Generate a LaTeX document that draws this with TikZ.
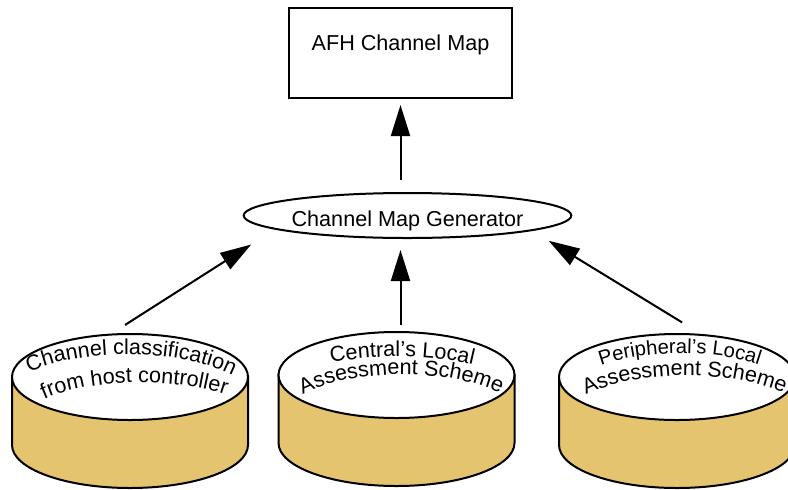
\documentclass[tikz,border=0pt]{standalone}
\usepackage{fontspec}
\setmainfont{Liberation Sans}
\usetikzlibrary{arrows.meta,shapes.geometric,decorations.text}
\definecolor{cyltan}{RGB}{229,196,112}
\newcommand\diagfont{\fontsize{10.8}{13}\selectfont}
\newcommand\cylsmallfont{\fontsize{10.1}{12}\selectfont}

\begin{document}
\begin{tikzpicture}[x=0.5pt,y=-0.5pt,line width=1pt,
  mapbox/.style={draw=black,rectangle,inner sep=0pt,minimum width=111.5pt,
    minimum height=45pt,text height=8pt,text depth=11pt,font=\diagfont},
  genbox/.style={draw=black,ellipse,inner sep=0pt,minimum width=160.5pt,
    minimum height=22.5pt,text height=10.5pt,text depth=0pt,font=\diagfont},
  cylbody/.style={draw=black,fill=cyltan},
  cyltop/.style={draw=black,fill=white,ellipse,inner sep=0pt,
    minimum width=118pt,minimum height=43pt},
  cyltext/.style={decorate,decoration={text along path,text align=center,
    text={|\diagfont|#1}}},
  cylsmall/.style={decorate,decoration={text along path,text align=center,
    text={|\cylsmallfont|#1}}},
  arr/.style={draw=black,-{Triangle[length=15.5pt,width=9.5pt]}}]
\useasboundingbox (0,0) rectangle (788,489);
% boxes:
\node[mapbox] (map) at (400.5,53) {AFH Channel Map};
\node[genbox] (gen) at (407.5,215.5) {Channel Map Generator};
% cylinders:
\path[cylbody] (12,377) -- (12,445) arc[start angle=180,end angle=0,x radius=118,y radius=43] -- (248,377) -- cycle;
\node[cyltop] (cls) at (130,377) {};
\path[cylbody] (278.5,375) -- (278.5,443) arc[start angle=180,end angle=0,x radius=118,y radius=43] -- (514.5,375) -- cycle;
\node[cyltop] (cen) at (396.5,375) {};
\path[cylbody] (559,377) -- (559,445) arc[start angle=180,end angle=0,x radius=118,y radius=43] -- (795,377) -- cycle;
\node[cyltop] (per) at (677,377) {};
% texts on the cylinders:
\path[cyltext={Channel classification}] (24,375) .. controls (76,347) and (184,347) .. (238,378);
\path[cyltext={from host controller}] (38,402) .. controls (86,377) and (182,377) .. (232,397);
\path[cyltext={Central’s Local}] (326,364) .. controls (368,354) and (434,354) .. (478,366);
\path[cyltext={Assessment Scheme}] (298,397) .. controls (350,367) and (452,367) .. (505,396);
\path[cylsmall={Peripheral’s Local}] (590,370) .. controls (638,348) and (722,348) .. (770,369);
\path[cyltext={Assessment Scheme}] (578,399) .. controls (632,368) and (736,368) .. (792,397);
% arrows:
\draw[arr,shorten <=6pt,shorten >=3pt] (gen.north -| map.south) -- (map.south);
\draw[arr,shorten <=3pt,shorten >=5.5pt] (map.south |- cen.north) -- (map.south |- gen.south);
\draw[arr,shorten <=8pt,shorten >=14pt] (cls.113) -- (gen.186);
\draw[arr,shorten <=11pt,shorten >=9.5pt] (per.61) -- (gen.353);
\end{tikzpicture}
\end{document}
